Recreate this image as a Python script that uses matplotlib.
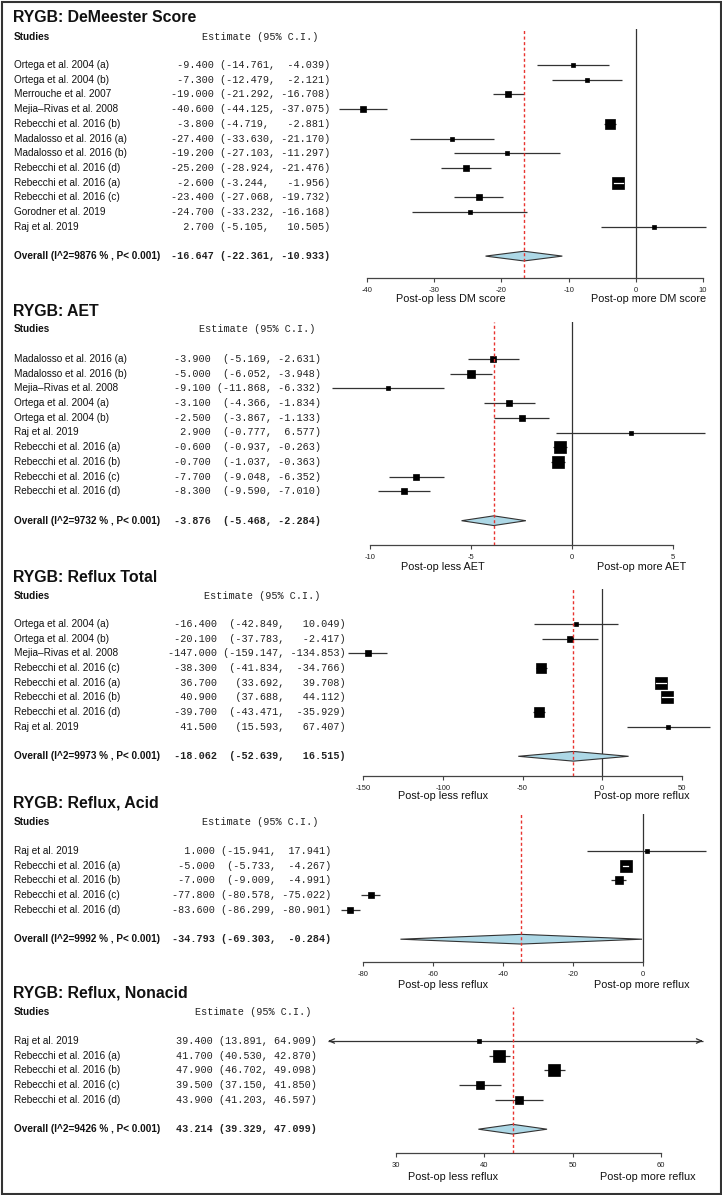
import matplotlib
matplotlib.use('Agg')
import matplotlib.pyplot as plt
from matplotlib.patches import Polygon, Rectangle

plt.rcParams['font.family'] = ['Liberation Sans', 'DejaVu Sans']
plt.rcParams['axes.unicode_minus'] = False

# ---------------- data ----------------
dm_studies = ['Ortega et al. 2004 (a)', 'Ortega et al. 2004 (b)', 'Merrouche et al. 2007',
              'Mejia\u2013Rivas et al. 2008', 'Rebecchi et al. 2016 (b)', 'Madalosso et al. 2016 (a)',
              'Madalosso et al. 2016 (b)', 'Rebecchi et al. 2016 (d)', 'Rebecchi et al. 2016 (a)',
              'Rebecchi et al. 2016 (c)', 'Gorodner et al. 2019', 'Raj et al. 2019']
dm_est = [-9.4, -7.3, -19.0, -40.6, -3.8, -27.4, -19.2, -25.2, -2.6, -23.4, -24.7, 2.7]
dm_lo = [-14.761, -12.479, -21.292, -44.125, -4.719, -33.630, -27.103, -28.924, -3.244, -27.068, -33.232, -5.105]
dm_hi = [-4.039, -2.121, -16.708, -37.075, -2.881, -21.170, -11.297, -21.476, -1.956, -19.732, -16.168, 10.505]
dm_overall = [-16.647, -22.361, -10.933]
dm_i2 = 9876
dm_ticks = [-40, -30, -20, -10, 0, 10]

aet_studies = ['Madalosso et al. 2016 (a)', 'Madalosso et al. 2016 (b)', 'Mejia\u2013Rivas et al. 2008',
               'Ortega et al. 2004 (a)', 'Ortega et al. 2004 (b)', 'Raj et al. 2019',
               'Rebecchi et al. 2016 (a)', 'Rebecchi et al. 2016 (b)', 'Rebecchi et al. 2016 (c)',
               'Rebecchi et al. 2016 (d)']
aet_est = [-3.9, -5.0, -9.1, -3.1, -2.5, 2.9, -0.6, -0.7, -7.7, -8.3]
aet_lo = [-5.169, -6.052, -11.868, -4.366, -3.867, -0.777, -0.937, -1.037, -9.048, -9.590]
aet_hi = [-2.631, -3.948, -6.332, -1.834, -1.133, 6.577, -0.263, -0.363, -6.352, -7.010]
aet_overall = [-3.876, -5.468, -2.284]
aet_i2 = 9732
aet_ticks = [-10, -5, 0, 5]

tot_studies = ['Ortega et al. 2004 (a)', 'Ortega et al. 2004 (b)', 'Mejia\u2013Rivas et al. 2008',
               'Rebecchi et al. 2016 (c)', 'Rebecchi et al. 2016 (a)', 'Rebecchi et al. 2016 (b)',
               'Rebecchi et al. 2016 (d)', 'Raj et al. 2019']
tot_est = [-16.4, -20.1, -147.0, -38.3, 36.7, 40.9, -39.7, 41.5]
tot_lo = [-42.849, -37.783, -159.147, -41.834, 33.692, 37.688, -43.471, 15.593]
tot_hi = [10.049, -2.417, -134.853, -34.766, 39.708, 44.112, -35.929, 67.407]
tot_overall = [-18.062, -52.639, 16.515]
tot_i2 = 9973
tot_ticks = [-150, -100, -50, 0, 50]

acid_studies = ['Raj et al. 2019', 'Rebecchi et al. 2016 (a)', 'Rebecchi et al. 2016 (b)',
                'Rebecchi et al. 2016 (c)', 'Rebecchi et al. 2016 (d)']
acid_est = [1.0, -5.0, -7.0, -77.8, -83.6]
acid_lo = [-15.941, -5.733, -9.009, -80.578, -86.299]
acid_hi = [17.941, -4.267, -4.991, -75.022, -80.901]
acid_overall = [-34.793, -69.303, -0.284]
acid_i2 = 9992
acid_ticks = [-80, -60, -40, -20, 0]

non_studies = ['Raj et al. 2019', 'Rebecchi et al. 2016 (a)', 'Rebecchi et al. 2016 (b)',
               'Rebecchi et al. 2016 (c)', 'Rebecchi et al. 2016 (d)']
non_est = [39.4, 41.7, 47.9, 39.5, 43.9]
non_lo = [13.891, 40.530, 46.702, 37.150, 41.203]
non_hi = [64.909, 42.870, 49.098, 41.850, 46.597]
non_overall = [43.214, 39.329, 47.099]
non_i2 = 9426
non_ticks = [30, 40, 50, 60]

# ---------------- layout (pixels) ----------------
W, H = 722, 1195
AL, AR = 318, 716          # horizontal extent of the plotting region
SP = 14.7                  # row spacing
MAXBOX = 11.5              # biggest box side, px

panels = [
    dict(title='RYGB: DeMeester Score', studies=dm_studies, est=dm_est, lo=dm_lo, hi=dm_hi,
         overall=dm_overall, i2=dm_i2, ticks=dm_ticks, cal=(367, 703),
         title_y=17, studies_y=37, row0=65, top=29, axis=278, xlab_y=299, xlab_x=(451, 649),
         xlabs=('Post-op less DM score', 'Post-op more DM score'),
         fmt=(7, 9, 7, '<'), num_x=171, head_x=202, clip=None),
    dict(title='RYGB: AET', studies=aet_studies, est=aet_est, lo=aet_lo, hi=aet_hi,
         overall=aet_overall, i2=aet_i2, ticks=aet_ticks, cal=(370, 673),
         title_y=311, studies_y=329, row0=359, top=322, axis=545, xlab_y=567, xlab_x=(443, 642),
         xlabs=('Post-op less AET', 'Post-op more AET'),
         fmt=(6, 9, 6, '>'), num_x=174, head_x=199, clip=None),
    dict(title='RYGB: Reflux Total', studies=tot_studies, est=tot_est, lo=tot_lo, hi=tot_hi,
         overall=tot_overall, i2=tot_i2, ticks=tot_ticks, cal=(363, 682),
         title_y=578, studies_y=596, row0=624, top=589, axis=776, xlab_y=796, xlab_x=(443, 642),
         xlabs=('Post-op less reflux', 'Post-op more reflux'),
         fmt=(8, 10, 8, '>'), num_x=168, head_x=204, clip=None),
    dict(title='RYGB: Reflux, Acid', studies=acid_studies, est=acid_est, lo=acid_lo, hi=acid_hi,
         overall=acid_overall, i2=acid_i2, ticks=acid_ticks, cal=(363, 643),
         title_y=803, studies_y=822, row0=851, top=814, axis=962, xlab_y=985, xlab_x=(443, 642),
         xlabs=('Post-op less reflux', 'Post-op more reflux'),
         fmt=(7, 9, 7, '>'), num_x=172, head_x=202, clip=None),
    dict(title='RYGB: Reflux, Nonacid', studies=non_studies, est=non_est, lo=non_lo, hi=non_hi,
         overall=non_overall, i2=non_i2, ticks=non_ticks, cal=(396, 661),
         title_y=993, studies_y=1012, row0=1041, top=1007, axis=1153, xlab_y=1177, xlab_x=(453, 648),
         xlabs=('Post-op less reflux', 'Post-op more reflux'),
         fmt=(6, 8, 6, '>'), num_x=176, head_x=195, clip=(22.3, 64.75)),
]

fig = plt.figure(figsize=(W / 100, H / 100), dpi=100)
fig.patch.set_facecolor('white')


def ftext(x, y, s, **kw):
    return fig.text(x / W, 1 - y / H, s, va='center', **kw)


def numstr(e, l, h, fmt):
    we, wl, wh, al = fmt
    lo_s = '(%.3f,' % l
    lo_s = lo_s.ljust(wl) if al == '<' else lo_s.rjust(wl)
    return '%s %s %s)' % (('%.3f' % e).rjust(we), lo_s, ('%.3f' % h).rjust(wh))


LABEL_FS = 7.2
MONO = 'Liberation Mono'

for p in panels:
    n = len(p['studies'])
    t0, t1 = p['ticks'][0], p['ticks'][-1]
    p0, p1 = p['cal']
    s = (p1 - p0) / (t1 - t0)                      # px per data unit
    xmin = t0 + (AL - p0) / s
    xmax = t0 + (AR - p0) / s

    def row(px):
        return (px - p['row0']) / SP

    ax = fig.add_axes([AL / W, 1 - p['axis'] / H, (AR - AL) / W, (p['axis'] - p['top']) / H])
    ax.set_xlim(xmin, xmax)
    ax.set_ylim(row(p['axis']), row(p['top']))
    ax.patch.set_alpha(0)
    for side in ['top', 'left', 'right']:
        ax.spines[side].set_visible(False)
    ax.spines['bottom'].set_bounds(t0, t1)
    ax.spines['bottom'].set_color('#444444')
    ax.spines['bottom'].set_linewidth(0.9)
    ax.set_yticks([])
    ax.set_xticks(p['ticks'])
    ax.set_xticklabels([str(t) for t in p['ticks']])
    ax.tick_params(axis='x', length=3, width=0.8, color='#444444', labelsize=5.5,
                   pad=3.5, labelcolor='#222222')

    # reference lines
    if t0 <= 0 <= t1:
        ax.axvline(0, color='#333333', lw=0.9, zorder=1)
    ax.axvline(p['overall'][0], color='#e8332f', lw=1.0, ls=(0, (2.2, 1.8)), zorder=5)

    clo, chi = p['clip'] if p['clip'] else (xmin, xmax)

    hws = [(h - l) / 2 for l, h in zip(p['lo'], p['hi'])]
    hwmin = min(hws)
    for i in range(n):
        e, l, h = p['est'][i], p['lo'][i], p['hi'][i]
        box = MAXBOX * (hws[i] / hwmin) ** -0.4
        ax.plot([max(l, clo), min(h, chi)], [i, i], color='#333333', lw=0.9, zorder=2,
                solid_capstyle='butt')
        if l < clo:
            ax.annotate('', xy=(clo, i), xytext=(clo + 3 / s, i),
                        arrowprops=dict(arrowstyle='->,head_length=0.45,head_width=0.2',
                                        lw=0.9, color='#333333', shrinkA=0, shrinkB=0,
                                        mutation_scale=8))
        if h > chi:
            ax.annotate('', xy=(chi, i), xytext=(chi - 3 / s, i),
                        arrowprops=dict(arrowstyle='->,head_length=0.45,head_width=0.2',
                                        lw=0.9, color='#333333', shrinkA=0, shrinkB=0,
                                        mutation_scale=8))
        ax.plot([e], [i], marker='s', ms=box * 0.72, color='black', mec='black', mew=0.5,
                ls='', zorder=3)
        if (e - l) * s < box / 2 and (h - e) * s < box / 2:
            ax.plot([l, h], [i, i], color='white', lw=0.9, zorder=4)

    # summary diamond
    oe, ol, oh = p['overall']
    yo = n + 1
    dh = 0.33
    ax.add_patch(Polygon([(ol, yo), (oe, yo - dh), (oh, yo), (oe, yo + dh)], closed=True,
                         facecolor='#add8e6', edgecolor='#333333', lw=0.8, zorder=4))

    # texts
    ftext(13, p['title_y'], p['title'], fontsize=11.4, fontweight='bold', color='#111111')
    ftext(14, p['studies_y'], 'Studies', fontsize=LABEL_FS, fontweight='bold', color='#111111')
    ftext(p['head_x'], p['studies_y'], 'Estimate (95% C.I.)', fontsize=7.3, family=MONO,
          color='#222222')
    for i in range(n):
        y = p['row0'] + i * SP
        ftext(14, y, p['studies'][i], fontsize=LABEL_FS, color='#111111')
        ftext(p['num_x'], y, numstr(p['est'][i], p['lo'][i], p['hi'][i], p['fmt']),
              fontsize=7.3, family=MONO, color='#222222')
    y = p['row0'] + yo * SP
    ftext(14, y, 'Overall (I^2=%d %% , P< 0.001)' % p['i2'], fontsize=LABEL_FS,
          fontweight='bold', color='#111111')
    ftext(p['num_x'], y, numstr(oe, ol, oh, p['fmt']), fontsize=7.3, family=MONO,
          fontweight='bold', color='#222222')
    ftext(p['xlab_x'][0], p['xlab_y'], p['xlabs'][0], fontsize=7.8, ha='center', color='#111111')
    ftext(p['xlab_x'][1], p['xlab_y'], p['xlabs'][1], fontsize=7.8, ha='center', color='#111111')

# outer frame
fig.add_artist(Rectangle((1.5 / W, 1.5 / H), (W - 3) / W, (H - 3) / H, transform=fig.transFigure,
                         fill=False, edgecolor='#333333', lw=1.5))

fig.savefig('out.png', dpi=100)
